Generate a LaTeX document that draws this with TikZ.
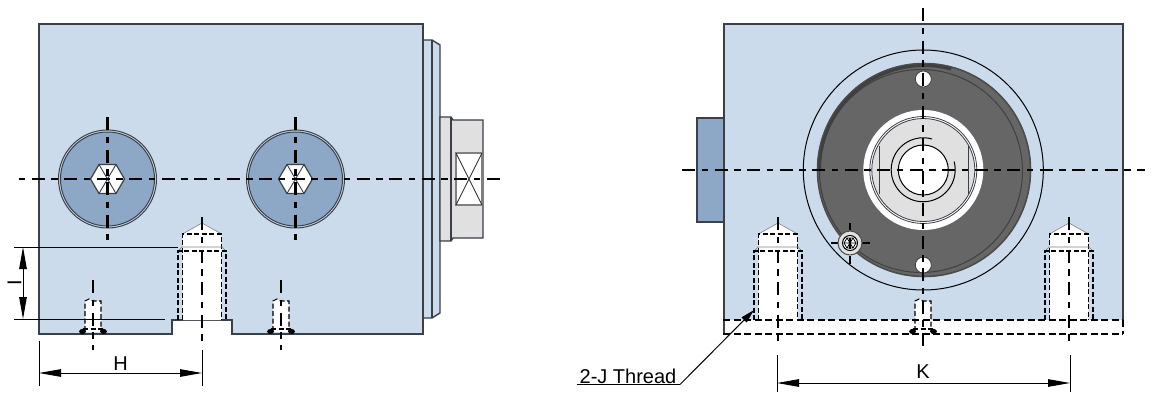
\documentclass[tikz,border=0pt]{standalone}
\usepackage{fontspec}
\setmainfont{Liberation Sans}
\usetikzlibrary{arrows.meta}
\definecolor{bodyblue}{HTML}{CCDBEC}
\definecolor{steel}{HTML}{8CA8C6}
\definecolor{edge}{HTML}{3A3F48}
\definecolor{lgray}{HTML}{E0E0E0}
\definecolor{dgray}{HTML}{666666}
\tikzset{
  part/.style={draw=edge,line width=1.4pt,line join=miter},
  centerl/.style={draw=black,line width=2.2pt,dash pattern=on 13pt off 6.5pt on 6.5pt off 6.5pt},
  hidden/.style={draw=black,line width=1.1pt,dash pattern=on 5pt off 2.5pt},
  hiddenb/.style={draw=black,line width=1.7pt,dash pattern=on 7pt off 3.5pt},
  dim/.style={draw=black,line width=1pt},
  dimarr/.style={dim,{Triangle[length=22pt,width=7.5pt]}-{Triangle[length=22pt,width=7.5pt]}},
  lab/.style={font=\fontsize{20}{20}\selectfont,inner sep=0pt},
}
\newcommand{\holeL}[1]{%
  \fill[white] (#1-19.5,320)--(#1-19.5,234)--(#1,223)--(#1+19.5,234)--(#1+19.5,320)--cycle;
  \draw[draw=gray,line width=0.6pt] (#1-19.5,234)--(#1,223)--(#1+19.5,234);
  \draw[hidden] (#1-19.5,320)--(#1-19.5,234)--(#1+19.5,234)--(#1+19.5,320);
  \draw[draw=gray,line width=0.6pt] (#1-24,251)--(#1-20,247)--(#1+20,247)--(#1+24,251);
  \draw[hidden] (#1-24,320)--(#1-24,251)--(#1+24,251)--(#1+24,320);
}
\newcommand{\smallhole}[1]{%
  \fill[white] (#1-8,332)--(#1-8,301)--(#1-4,299)--(#1,301)--(#1+8,301)--(#1+8,332)--cycle;
  \draw[hidden] (#1-8,331)--(#1-8,301)--(#1-4,299)--(#1,301)--(#1+8,301)--(#1+8,331);
  \draw[hidden] (#1-10,329)--(#1+10,329);
  \fill[black] (#1-10.5,331.5) ellipse (3.4 and 2.6);
  \fill[black] (#1+10.5,331.5) ellipse (3.4 and 2.6);
}
\newcommand{\plug}[1]{%
  \fill[steel] (#1,179) circle (47);
  \draw[draw=edge,line width=1pt] (#1,179) circle (49);
  \draw[draw=edge,line width=1pt] (#1,179) circle (47);
  \draw[draw=edge,line width=1.2pt,fill=white] (#1-17,179)--(#1-8.5,164.5)--(#1+8.5,164.5)--(#1+17,179)--(#1+8.5,193.5)--(#1-8.5,193.5)--cycle;
  \draw[draw=edge,line width=0.9pt] (#1-8.5,164.5)--(#1+8.5,193.5) (#1+8.5,164.5)--(#1-8.5,193.5);
}
\begin{document}
\begin{tikzpicture}[x=1pt,y=-1pt]
\useasboundingbox (0,0) rectangle (1167,394);
\fill[white] (0,0) rectangle (1167,394);

% ---- left view ----
\draw[part,fill=bodyblue] (423,40)--(432,40)--(440,45)--(440,313)--(432,318)--(423,318)--cycle;
\draw[part] (432,40)--(432,318);
\draw[part,fill=lgray] (440,117)--(451,117)--(453,120)--(483,120)--(483,238)--(453,238)--(451,241)--(440,241)--cycle;
\draw[part] (451,117)--(451,241);
\draw[draw=gray,line width=1.4pt,fill=white] (456,153) rectangle (482,205);
\draw[draw=black!85,line width=0.8pt] (456,153)--(482,205) (482,153)--(456,205);
\draw[part,fill=bodyblue] (39,24)--(423,24)--(423,334)--(232,334)--(232,320)--(172,320)--(172,334)--(39,334)--cycle;
\plug{107.5}\plug{295.5}
\holeL{202}
\smallhole{93}\smallhole{281}

% ---- right view ----
\draw[part,fill=steel] (697,118) rectangle (724,222);
\draw[part,fill=bodyblue] (724,24) rectangle (1123,334);
\fill[white] (725,320) rectangle (1123.5,335);
\holeL{778}\holeL{1069}
\smallhole{923}
\draw[hiddenb] (723,320)--(1123,320);
\draw[hiddenb] (723,334)--(1123,334);
\draw[hiddenb] (1123,320)--(1123,334);
\draw[draw=black,line width=1pt] (923.3,170) circle (120);
\fill[dgray] (924,170) circle (107);
\draw[draw=black!70,line width=1.6pt] (924,170) circle (106.5);
\draw[draw=black!75,line width=3pt] (819.5,170) arc (180:285:104.5);
\draw[draw=black!75,line width=1pt] (921,171) circle (101.5);
\fill[white] (923.3,170) circle (60);
\fill[lgray] (923.3,170) circle (52);
\draw[draw=edge,line width=0.8pt] (923.3,170) circle (53.5);
\draw[draw=edge,line width=0.8pt] (923.3,170) circle (51.5);
\draw[draw=edge,line width=1pt] (879,146)--(879,194) (968,146)--(968,194);
\fill[white] (923.3,170) circle (25);
\draw[draw=black,line width=1pt] (923.3,170) circle (25);
\draw[draw=black,line width=1pt] (932,139) arc (-74:-270:32) arc (90:-15:32);
\fill[white] (923.3,79) circle (8);
\fill[white] (923.3,265) circle (8);
\draw[draw=edge,line width=0.8pt] (923.3,79) circle (8);
\draw[draw=edge,line width=0.8pt] (923.3,265) circle (8);

% ---- centre lines ----
\draw[centerl,dash phase=16pt] (15,179)--(505,179);
\draw[centerl] (107.5,117)--(107.5,240);
\draw[centerl] (295.5,117)--(295.5,240);
\draw[centerl] (202,217)--(202,346);
\draw[centerl] (93,280)--(93,350);
\draw[centerl] (281,280)--(281,350);
\draw[centerl] (682,170)--(1145,170);
\draw[centerl] (923.3,8)--(923.3,350);
\draw[centerl] (778,217)--(778,346);
\draw[centerl] (1069,217)--(1069,346);

% ---- screw ----
\draw[draw=black,line width=1.6pt] (850,223)--(850,230) (850,256)--(850,264) (831,243)--(838,243) (862,243)--(870,243);
\draw[draw=black!70,line width=1pt,fill=lgray] (850,243) circle (12);
\draw[draw=black,line width=1pt,fill=white] (850,243) circle (7.5);
\draw[draw=black,line width=0.8pt] (844,243)--(847,238)--(853,238)--(856,243)--(853,248)--(847,248)--cycle;
\draw[draw=black,line width=0.8pt] (847,238)--(853,248) (853,238)--(847,248) (844,243)--(856,243);
\draw[draw=black,line width=1.4pt] (850,238)--(850,249);

% ---- dimensions ----
\coordinate (i1a) at (14,247); \coordinate (i1b) at (178,247);
\coordinate (i2a) at (14,319); \coordinate (i2b) at (165,319);
\draw[dim] (i1a)--(i1b) (i2a)--(i2b);
\coordinate (ia) at (23,247); \coordinate (ib) at (23,319);
\draw[dimarr] (ia)--(ib);
\node[lab,rotate=90] (Ilabel) at (14.5,283) {I};

\coordinate (h1a) at (39,341); \coordinate (h1b) at (39,386);
\coordinate (h2a) at (202,350); \coordinate (h2b) at (202,386);
\draw[dim] (h1a)--(h1b) (h2a)--(h2b);
\coordinate (ha) at (39,373); \coordinate (hb) at (202,373);
\draw[dimarr] (ha)--(hb);
\node[lab] (Hlabel) at (120.5,364) {H};

\coordinate (k1a) at (777,355); \coordinate (k1b) at (777,392);
\coordinate (k2a) at (1070,355); \coordinate (k2b) at (1070,392);
\draw[dim] (k1a)--(k1b) (k2a)--(k2b);
\coordinate (ka) at (777,383); \coordinate (kb) at (1070,383);
\draw[dimarr] (ka)--(kb);
\node[lab] (Klabel) at (923,372) {K};

\node[lab] (thread) at (628,376) {2-J Thread};
\coordinate (ula) at (577,384.5); \coordinate (ulb) at (680,384.5);
\coordinate (tip) at (754,310);
\draw[dim] (ula)--(ulb);
\draw[dim,-{Triangle[length=14pt,width=7pt]}] (ulb)--(tip);
\end{tikzpicture}
\end{document}
